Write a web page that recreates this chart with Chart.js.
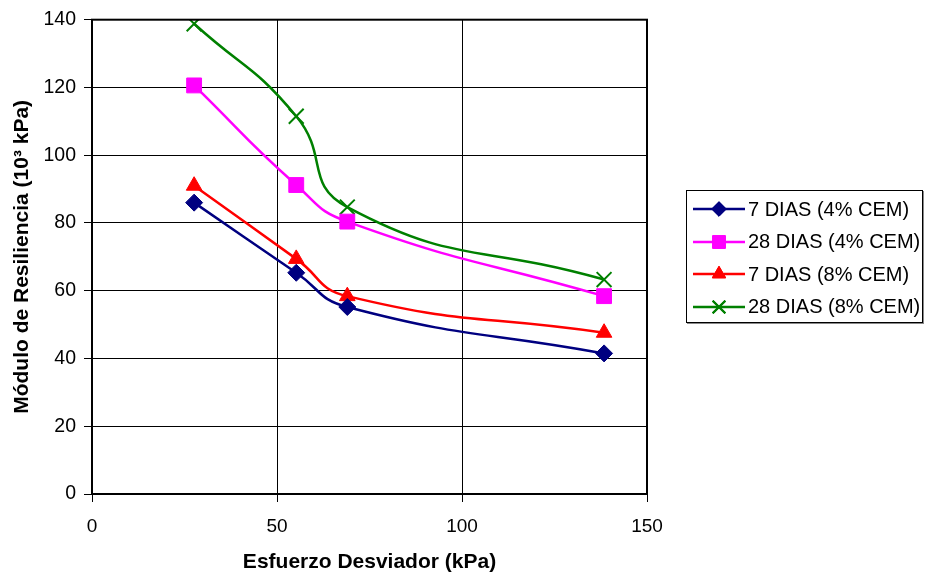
<!DOCTYPE html>
<html>
<head>
<meta charset="utf-8">
<script src="https://cdn.jsdelivr.net/npm/chart.js@4.4.1/dist/chart.umd.min.js"></script>
<style>
    html, body { margin: 0; padding: 0; background: #fff; }
    #wrap { position: relative; width: 925px; height: 575px; }
    #legend {
        position: absolute; left: 686px; top: 190px; width: 237px; height: 133px;
        border: 1px solid #000; box-sizing: border-box; background: #fff;
        box-shadow: 1px 1px 0 #888;
        font-family: "Liberation Sans", Arial, sans-serif; font-size: 20px; color: #000;
        padding-top: 2px;
    }
    .leg-row { display: flex; align-items: center; height: 32.5px; }
    .leg-row canvas { margin-left: 6px; margin-right: 3px; }
</style>
</head>
<body>
<div id="wrap">
    <canvas id="chart" width="925" height="575"></canvas>
    <div id="legend"></div>
</div>
<script>
// Módulo de resiliencia vs esfuerzo desviador
const stress = [27.6, 55.2, 69, 138.4];
const dias7_4 = [86, 65.3, 55.2, 41.5];
const dias28_4 = [120.6, 91.2, 80.4, 58.4];
const dias7_8 = [91, 69.4, 58.4, 47.6];
const dias28_8 = [138.8, 111.5, 84.7, 63.3];
const seriesNames = ['7 DIAS (4% CEM)', '28 DIAS (4% CEM)', '7 DIAS (8% CEM)', '28 DIAS (8% CEM)'];
const xTicks = [0, 50, 100, 150];
const yTicks = [0, 20, 40, 60, 80, 100, 120, 140];

const FONT = '"Liberation Sans", Arial, sans-serif';

const styles = [
    { color: '#000080', point: 'rectRot', radius: 8.5, bw: 1 },
    { color: '#FF00FF', point: 'rect', radius: 10.5, bw: 1 },
    { color: '#FF0000', point: 'triangle', radius: 9, bw: 1 },
    { color: '#008000', point: 'crossRot', radius: 10.5, bw: 2 }
];

function toPoints(vals) {
    return vals.map((v, i) => ({ x: stress[i], y: v }));
}

const allData = [dias7_4, dias28_4, dias7_8, dias28_8];

const datasets = allData.map((vals, i) => ({
    label: seriesNames[i],
    data: toPoints(vals),
    borderColor: styles[i].color,
    backgroundColor: styles[i].color,
    pointBackgroundColor: styles[i].color,
    pointBorderColor: styles[i].color,
    pointStyle: styles[i].point,
    pointRadius: styles[i].radius,
    pointBorderWidth: styles[i].bw,
    borderWidth: 2.5,
    tension: 0.5,
    fill: false
}));

// Frame around the plot area
const framePlugin = {
    id: 'frame',
    afterDraw(chart) {
        const { ctx, chartArea: a } = chart;
        ctx.save();
        ctx.strokeStyle = '#000';
        ctx.lineWidth = 2;
        ctx.strokeRect(a.left, a.top, a.right - a.left, a.bottom - a.top);
        ctx.restore();
    }
};

new Chart(document.getElementById('chart').getContext('2d'), {
    type: 'line',
    data: { datasets },
    options: {
        responsive: false,
        animation: false,
        layout: { padding: { top: 18, right: 278, left: 0, bottom: 0 } },
        plugins: { legend: { display: false }, tooltip: { enabled: false } },
        scales: {
            x: {
                type: 'linear',
                min: 0,
                max: 150,
                afterBuildTicks: (s) => { s.ticks = xTicks.map(v => ({ value: v })); },
                afterFit: (s) => { s.height = 81; },
                grid: { color: '#000', lineWidth: 1, tickLength: 8, drawTicks: true },
                border: { color: '#000', width: 2 },
                ticks: { color: '#000', font: { family: FONT, size: 19 }, padding: 13 },
                title: {
                    display: true,
                    text: 'Esfuerzo Desviador (kPa)',
                    color: '#000',
                    font: { family: FONT, size: 21, weight: 'bold', lineHeight: 1 },
                    padding: { top: 0, bottom: 2 }
                }
            },
            y: {
                min: 0,
                max: 140,
                afterBuildTicks: (s) => { s.ticks = yTicks.map(v => ({ value: v })); },
                afterFit: (s) => { s.width = 92; },
                grid: { color: '#000', lineWidth: 1, tickLength: 8, drawTicks: true },
                border: { color: '#000', width: 2 },
                ticks: { color: '#000', font: { family: FONT, size: 19.5 }, padding: 8 },
                title: {
                    display: true,
                    text: 'Módulo de Resiliencia (10³ kPa)',
                    color: '#000',
                    font: { family: FONT, size: 21, weight: 'bold', lineHeight: 1 },
                    padding: { top: 12, bottom: 0 }
                }
            }
        }
    },
    plugins: [framePlugin]
});

// HTML legend with line + marker icons
const legend = document.getElementById('legend');
seriesNames.forEach((name, i) => {
    const row = document.createElement('div');
    row.className = 'leg-row';
    const c = document.createElement('canvas');
    c.width = 52; c.height = 26;
    const g = c.getContext('2d');
    const st = styles[i];
    g.strokeStyle = st.color;
    g.lineWidth = 2.5;
    g.beginPath(); g.moveTo(0, 13); g.lineTo(52, 13); g.stroke();
    g.fillStyle = st.color;
    g.lineWidth = st.bw;
    Chart.helpers.drawPoint(g, { pointStyle: st.point, radius: st.radius * 0.85, borderWidth: st.bw, rotation: 0 }, 26, 13);
    g.fill();
    g.stroke();
    row.appendChild(c);
    const span = document.createElement('span');
    span.textContent = name;
    row.appendChild(span);
    legend.appendChild(row);
});
</script>
</body>
</html>
